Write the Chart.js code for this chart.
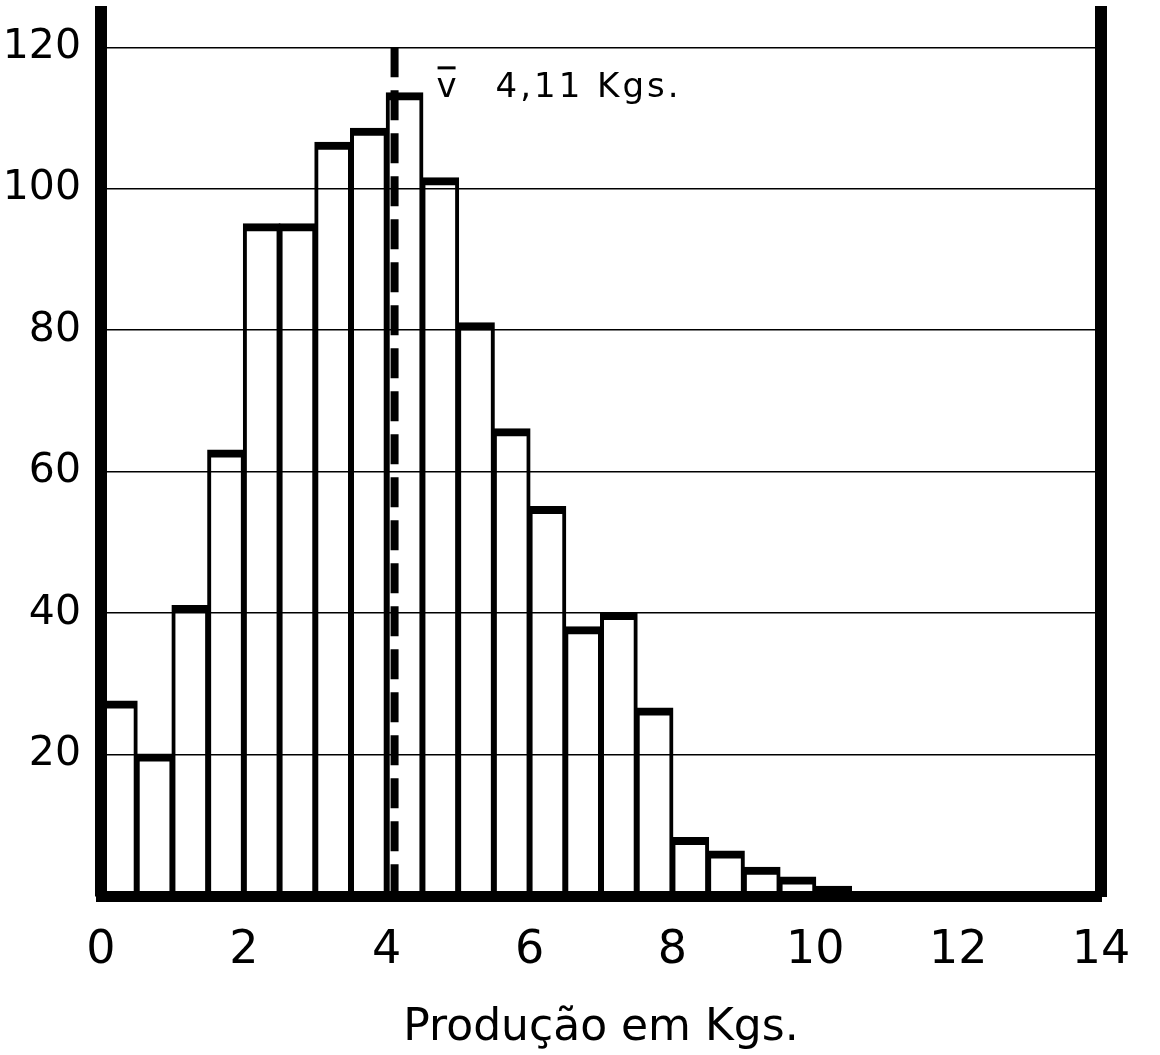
<!DOCTYPE html>
<html>
<head>
<meta charset="utf-8">
<script src="https://cdn.jsdelivr.net/npm/chart.js@4.4.0/dist/chart.umd.min.js"></script>
<style>
  html, body { margin: 0; padding: 0; background: #fff; }
  #wrap { width: 1160px; height: 1055px; position: relative; }
</style>
</head>
<body>
<div id="wrap"><canvas id="histChart"></canvas></div>
<script>
// bins of 0.5 kg, value at bin centre
const binCenters = [0.25, 0.75, 1.25, 1.75, 2.25, 2.75, 3.25, 3.75, 4.25, 4.75,
  5.25, 5.75, 6.25, 6.75, 7.25, 7.75, 8.25, 8.75, 9.25, 9.75, 10.25];
const counts = [27.5, 20, 41, 63, 95, 95, 106.5, 108.5, 113.5, 101.5,
  81, 66, 55, 38, 40, 26.5, 8.2, 6.3, 4, 2.6, 1.3];
const xTicks = [0, 2, 4, 6, 8, 10, 12, 14];
const yTicks = [20, 40, 60, 80, 100, 120];
const meanValue = 4.11;
const meanLabel = "4,11 Kgs.";
const axisTitle = "Produção em Kgs.";

const FONT = "'DejaVu Sans', sans-serif";

// dashed mean line + label
const meanLine = {
  id: "meanLine",
  afterDatasetsDraw(chart) {
    const { ctx, scales: { x, y } } = chart;
    const px = x.getPixelForValue(meanValue);
    ctx.save();
    ctx.strokeStyle = "#000";
    ctx.lineWidth = 8;
    ctx.setLineDash([30, 13]);
    ctx.beginPath();
    ctx.moveTo(px, y.getPixelForValue(120));
    ctx.lineTo(px, y.getPixelForValue(0));
    ctx.stroke();
    ctx.setLineDash([]);

    ctx.fillStyle = "#000";
    ctx.font = "34px " + FONT;
    ctx.textBaseline = "alphabetic";
    ctx.textAlign = "left";
    const by = y.getPixelForValue(113);
    // v with bar
    ctx.fillText("v", px + 42, by);
    ctx.lineWidth = 3;
    ctx.beginPath();
    ctx.moveTo(px + 43, by - 29);
    ctx.lineTo(px + 61, by - 29);
    ctx.stroke();
    ctx.letterSpacing = "3px";
    ctx.fillText(meanLabel, px + 101, by);
    ctx.restore();
  }
};

// keep the plot box where the original has it
const noPad = (s) => {
  s.paddingTop = 0;
  s.paddingBottom = 0;
  s.paddingLeft = 0;
  s.paddingRight = 0;
};

const ctx = document.getElementById("histChart");
new Chart(ctx, {
  type: "bar",
  data: {
    datasets: [{
      data: binCenters.map((c, i) => ({ x: c, y: counts[i] })),
      backgroundColor: "rgba(0,0,0,0)",
      borderColor: "#000",
      borderWidth: { top: 6, left: 2, right: 2, bottom: 0 },
      borderSkipped: "start",
      barPercentage: 1,
      categoryPercentage: 1,
      inflateAmount: 1
    }]
  },
  options: {
    responsive: true,
    maintainAspectRatio: false,
    animation: false,
    layout: { padding: { top: 12, left: 0, right: 0, bottom: 0 } },
    plugins: {
      legend: { display: false },
      tooltip: { enabled: false }
    },
    scales: {
      x: {
        type: "linear",
        min: 0,
        max: 14,
        offset: false,
        afterBuildTicks: (s) => { s.ticks = xTicks.map(v => ({ value: v })); },
        afterFit: (s) => { s.height = 159; noPad(s); },
        grid: { display: true, color: "rgba(0,0,0,0)", drawTicks: false, offset: false },
        border: { display: true, color: "#000", width: 11 },
        ticks: {
          color: "#000",
          padding: 27,
          font: { family: FONT, size: 46 },
          maxRotation: 0
        },
        title: {
          display: true,
          text: axisTitle,
          color: "#000",
          font: { family: FONT, size: 44 },
          padding: { top: 0, bottom: 0 }
        }
      },
      y: {
        min: 0,
        max: 125,
        afterBuildTicks: (s) => { s.ticks = [0].concat(yTicks).map(v => ({ value: v })); },
        afterFit: (s) => { s.width = 101; noPad(s); },
        grid: { color: "#000", lineWidth: 1.5, drawTicks: false },
        border: { display: true, color: "#000", width: 12 },
        ticks: {
          color: "#000",
          padding: 20,
          font: { family: FONT, size: 41 },
          callback: (v) => (v === 0 ? "" : v)
        }
      },
      y2: {
        position: "right",
        min: 0,
        max: 125,
        afterFit: (s) => { s.width = 59; noPad(s); },
        grid: { display: false, drawTicks: false },
        border: { display: true, color: "#000", width: 12 },
        ticks: { display: false }
      }
    }
  },
  plugins: [meanLine]
});
</script>
</body>
</html>
